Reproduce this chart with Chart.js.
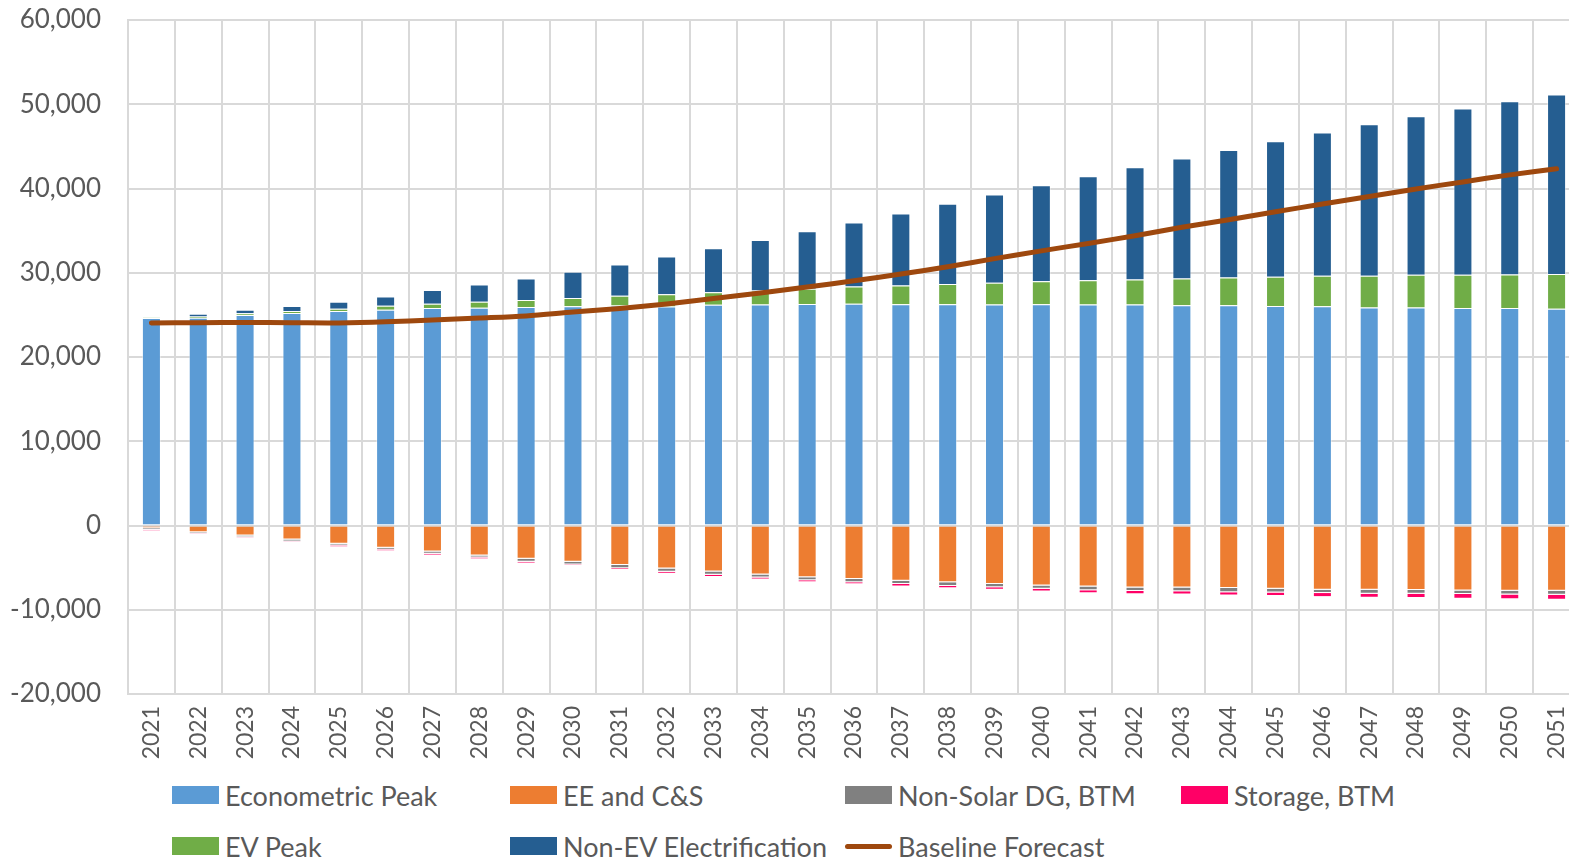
<!DOCTYPE html>
<html>
<head>
<meta charset="utf-8">
<title>Peak Load Forecast Components</title>
<script src="https://cdn.jsdelivr.net/npm/chart.js@4.4.1/dist/chart.umd.min.js"></script>
<style>
  html, body { margin: 0; padding: 0; background: #ffffff; overflow: hidden; }
  #wrap { position: relative; width: 1569px; height: 861px; overflow: hidden; }
  #chart { position: absolute; left: 0; top: 0; }
  .legend-item { position: absolute; height: 30px; display: flex; align-items: center;
    font-family: Lato, "Liberation Sans", sans-serif; font-size: 27px; color: #595959; white-space: nowrap; }
  .legend-item .sw { width: 47px; height: 18px; margin-right: 6px; flex: none; }
  .legend-item .ln { width: 47px; height: 5px; border-radius: 3px; margin-right: 6px; flex: none; }
</style>
</head>
<body>
<div id="wrap">
  <canvas id="chart" width="1590" height="772"></canvas>
  <div id="legend"></div>
</div>
<script>
// Forecast years
const years = ['2021','2022','2023','2024','2025','2026','2027','2028','2029','2030',
  '2031','2032','2033','2034','2035','2036','2037','2038','2039','2040',
  '2041','2042','2043','2044','2045','2046','2047','2048','2049','2050','2051'];

// Load components (MW)
const econometricPeak = [24620, 24660, 24980, 25220, 25450, 25610, 25810, 25850, 25930, 26010,
  26100, 26000, 26200, 26220, 26280, 26330, 26270, 26250, 26240, 26270,
  26220, 26220, 26150, 26130, 26050, 26010, 25890, 25890, 25810, 25810, 25730];
const eeAndCS = [-320, -790, -1190, -1660, -2170, -2650, -3080, -3560, -3950, -4310,
  -4680, -5110, -5470, -5820, -6140, -6340, -6570, -6730, -6930, -7130,
  -7250, -7370, -7350, -7430, -7510, -7630, -7630, -7670, -7710, -7750, -7750];
const nonSolarDG = [-190, -160, -190, -240, -200, -200, -280, -230, -360, -310,
  -380, -390, -390, -360, -360, -390, -360, -440, -400, -390,
  -430, -390, -440, -480, -430, -390, -470, -430, -430, -430, -470];
const storageBTM = [-120, -80, -80, -80, -160, -150, -160, -200, -160, -160,
  -180, -200, -240, -240, -230, -240, -320, -280, -310, -320,
  -360, -400, -390, -390, -440, -480, -480, -520, -560, -560, -590];
const evPeak = [60, 160, 200, 230, 280, 480, 510, 710, 830, 990,
  1160, 1450, 1490, 1680, 1820, 2040, 2220, 2400, 2560, 2710,
  2880, 2980, 3180, 3320, 3480, 3630, 3750, 3870, 3950, 3990, 4110];
const nonEVElectrification = [0, 320, 430, 600, 830, 1100, 1620, 2060, 2570, 3120,
  3720, 4490, 5220, 6000, 6840, 7590, 8540, 9530, 10490, 11420,
  12360, 13330, 14230, 15130, 16080, 17000, 17990, 18820, 19730, 20560, 21310];
const baselineForecast = [24030, 24070, 24100, 24080, 24050, 24170, 24400, 24620, 24870, 25330,
  25760, 26300, 26950, 27600, 28300, 29050, 29850, 30720, 31680, 32600,
  33480, 34400, 35400, 36300, 37250, 38150, 39050, 39950, 40780, 41620, 42350];

// Value axis ticks
const yTicks = [-20000, -10000, 0, 10000, 20000, 30000, 40000, 50000, 60000];

const FONT = 'Lato, "Liberation Sans", sans-serif';
const TEXT = '#595959';
const GRID = '#d9d9d9';

function barSet(label, data, color) {
  return {
    type: 'bar', label, data,
    backgroundColor: color,
    borderColor: 'rgba(255,255,255,0.45)',
    borderWidth: 1,
    stack: 'load',
    order: 1,
    barPercentage: 0.406,
    categoryPercentage: 1.0
  };
}

const datasets = [
  barSet('Econometric Peak', econometricPeak, '#5b9bd5'),
  barSet('EE and C&S', eeAndCS, '#ed7d31'),
  barSet('Non-Solar DG, BTM', nonSolarDG, '#808080'),
  barSet('Storage, BTM', storageBTM, '#ff0066'),
  barSet('EV Peak', evPeak, '#70ad47'),
  barSet('Non-EV Electrification', nonEVElectrification, '#255e91'),
  {
    type: 'line', label: 'Baseline Forecast', data: baselineForecast,
    borderColor: '#9e480e', backgroundColor: '#9e480e',
    borderWidth: 5, pointRadius: 0, tension: 0.3,
    borderCapStyle: 'round', borderJoinStyle: 'round',
    stack: 'baseline', order: 0
  }
];

function buildLegend() {
  const host = document.getElementById('legend');
  const cols = [172, 510, 845, 1181];
  const rows = [780, 831];
  const layout = [
    [0, 0, 0], [1, 0, 1], [2, 0, 2], [3, 0, 3],
    [4, 1, 0], [5, 1, 1], [6, 1, 2]
  ];
  layout.forEach(([di, r, c]) => {
    const ds = datasets[di];
    const item = document.createElement('div');
    item.className = 'legend-item';
    item.style.left = cols[c] + 'px';
    item.style.top = rows[r] + 'px';
    const sw = document.createElement('span');
    sw.className = ds.type === 'line' ? 'ln' : 'sw';
    sw.style.background = ds.type === 'line' ? ds.borderColor : ds.backgroundColor;
    const tx = document.createElement('span');
    tx.textContent = ds.label;
    item.appendChild(sw);
    item.appendChild(tx);
    host.appendChild(item);
  });
}

function draw() {
  new Chart(document.getElementById('chart'), {
    data: { labels: years, datasets },
    options: {
      responsive: false,
      animation: false,
      layout: { padding: { top: 20, right: 10, bottom: 0, left: 0 } },
      plugins: { legend: { display: false }, tooltip: { enabled: false } },
      scales: {
        x: {
          stacked: true,
          offset: true,
          grid: { offset: true, color: GRID, lineWidth: 2, drawTicks: false },
          border: { color: GRID, width: 2 },
          ticks: {
            color: TEXT, font: { family: FONT, size: 23 },
            minRotation: 90, maxRotation: 90, padding: 12, autoSkip: false
          },
          afterFit: (s) => { s.height = 78; s.paddingLeft = 0; s.paddingRight = 0; }
        },
        y: {
          stacked: true,
          min: yTicks[0], max: yTicks[yTicks.length - 1],
          afterBuildTicks: (s) => { s.ticks = yTicks.map(v => ({ value: v })); },
          grid: { color: GRID, lineWidth: 2, drawTicks: false },
          border: { color: GRID, width: 2 },
          ticks: {
            color: TEXT, font: { family: FONT, size: 26 }, padding: 27,
            callback: (v) => Number(v).toLocaleString('en-US')
          },
          afterFit: (s) => { s.width = 128; s.paddingTop = 0; s.paddingBottom = 0; }
        }
      }
    }
  });
}

buildLegend();
const ready = (document.fonts && document.fonts.load)
  ? Promise.all([document.fonts.load('26px Lato'), document.fonts.load('23px Lato')]).catch(() => {})
  : Promise.resolve();
ready.then(draw);
</script>
</body>
</html>
